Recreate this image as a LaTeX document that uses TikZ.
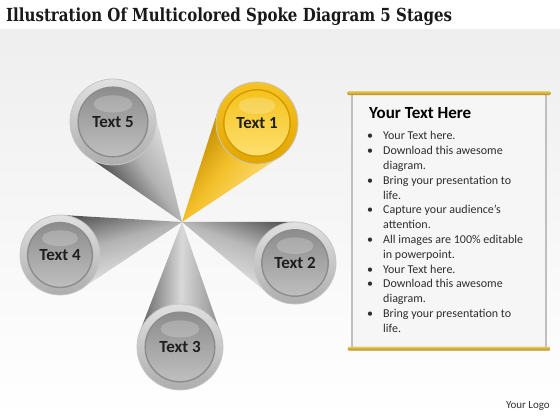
\documentclass[tikz,border=0pt]{standalone}
\usepackage{fontspec}
\setmainfont{Carlito}
\newfontfamily\titlefont{DejaVu Serif}
\usetikzlibrary{calc,backgrounds}

\definecolor{ylwRingA}{HTML}{F6C425}
\definecolor{ylwRingB}{HTML}{E2A500}
\definecolor{ylwRim}{HTML}{D39A00}
\definecolor{ylwDiscA}{HTML}{F4C21C}
\definecolor{ylwDiscB}{HTML}{FDE070}
\definecolor{ylwConeA}{HTML}{C28C00}
\definecolor{ylwConeB}{HTML}{F3C02A}
\definecolor{ylwConeC}{HTML}{FCDA6E}
\definecolor{goldA}{HTML}{E9C860}
\definecolor{goldB}{HTML}{B08812}

\tikzset{
  ring/.style={circle, inner sep=0pt, outer sep=0pt, draw=gray!45, line width=0.8pt},
  disc/.style={circle, inner sep=0pt, outer sep=0pt, line width=1.4pt},
  spokelabel/.style={inner sep=0pt, font=\fontsize{17}{17}\selectfont\bfseries, text=black!88},
  goldbar/.style={rounded corners=1.5pt, inner sep=0pt, minimum height=4pt, top color=goldA, bottom color=goldB},
}

\begin{document}
\begin{tikzpicture}[x=1pt,y=1pt]
  \useasboundingbox (0,0) rectangle (560,420);
  \begin{pgfonlayer}{background}
    \fill[white] (0,0) rectangle (560,420);
    \shade[top color=gray!13, bottom color=white] (0,0) rectangle (560,390);
  \end{pgfonlayer}

  % title
  \node[anchor=base west, inner sep=0pt, text=black!90] (title) at (6,398)
    {\resizebox{446pt}{\height}{\titlefont\fontsize{18}{18}\selectfont\bfseries Illustration Of Multicolored Spoke Diagram 5 Stages}};

  % spokes
  \coordinate (hub) at (182,198);
  \foreach \i/\px/\py/\r/\ra/\rb/\rim/\da/\db/\ca/\cb/\cc in {
      1/257/297/41/ylwRingA/ylwRingB/ylwRim/ylwDiscA/ylwDiscB/ylwConeA/ylwConeB/ylwConeC,
      2/295/157/41/black!12/black!32/black!45/black!45/black!25/black!72/black!28/black!12,
      3/180/73/43/black!12/black!32/black!45/black!45/black!25/black!45/black!15/black!62,
      4/60/165/40/black!12/black!32/black!45/black!45/black!25/black!12/black!30/black!72,
      5/113/298/43/black!12/black!32/black!45/black!45/black!25/black!72/black!30/black!12}
  {
    \pgfmathsetmacro\len{veclen(\px-182,\py-198)}
    \pgfmathsetmacro\dir{atan2(\py-198,\px-182)}
    \pgfmathsetmacro\tx{\len-\r*\r/\len}
    \pgfmathsetmacro\ty{\r*sqrt(\len*\len-\r*\r)/\len}
    \node[ring, minimum size={2*\r pt}, top color=\ra, bottom color=\rb] (ring\i) at (\px,\py) {};
    \begin{pgfonlayer}{background}
      \shade[transform canvas={rotate around={\dir:(hub)}},
             top color=\ca, bottom color=\cc, middle color=\cb]
        (hub) -- ($(hub)+(\tx,\ty)$) -- ($(hub)+(\len,0)$) -- ($(hub)+(\tx,-\ty)$) -- cycle;
    \end{pgfonlayer}
    \node[disc, draw=\rim, minimum size={1.62*\r pt}, top color=\da, bottom color=\db] (disc\i) at (ring\i) {};
    \fill[white, opacity=0.22] ($(disc\i.center)+(0,0.42*\r)$) ellipse ({0.45*\r} and {0.2*\r});
    \node[spokelabel] (lab\i) at (disc\i) {Text \i};
  }

  % text panel
  \node[draw=gray!50, fill=gray!7, line width=1.5pt, inner sep=0pt,
        minimum width=194pt, minimum height=254pt] (panel) at (449,199) {};
  \node[goldbar, minimum width=204pt] (topbar) at (panel.north) {};
  \node[goldbar, minimum width=203pt] (botbar) at (panel.south) {};
  \node[anchor=base west, inner sep=0pt, text=black,
        font=\fontsize{17}{17}\selectfont\bfseries] (head) at (369,301) {Your Text Here};
  \node[anchor=base west, inner sep=0pt, text=black!82,
        font=\fontsize{12}{14.8}\selectfont] (points) at (367,280)
    {\begin{tabular}[t]{@{}p{16pt}@{}l@{}}
      \textbullet & Your Text here.\\
      \textbullet & Download this awesome\\
                  & diagram.\\
      \textbullet & Bring your presentation to\\
                  & life.\\
      \textbullet & Capture your audience’s\\
                  & attention.\\
      \textbullet & All images are 100\% editable\\
                  & in powerpoint.\\
      \textbullet & Your Text here.\\
      \textbullet & Download this awesome\\
                  & diagram.\\
      \textbullet & Bring your presentation to\\
                  & life.
    \end{tabular}};

  \node[anchor=base east, inner sep=0pt, text=black!80,
        font=\fontsize{11}{11}\selectfont] (logo) at (550,11) {Your Logo};
\end{tikzpicture}
\end{document}
